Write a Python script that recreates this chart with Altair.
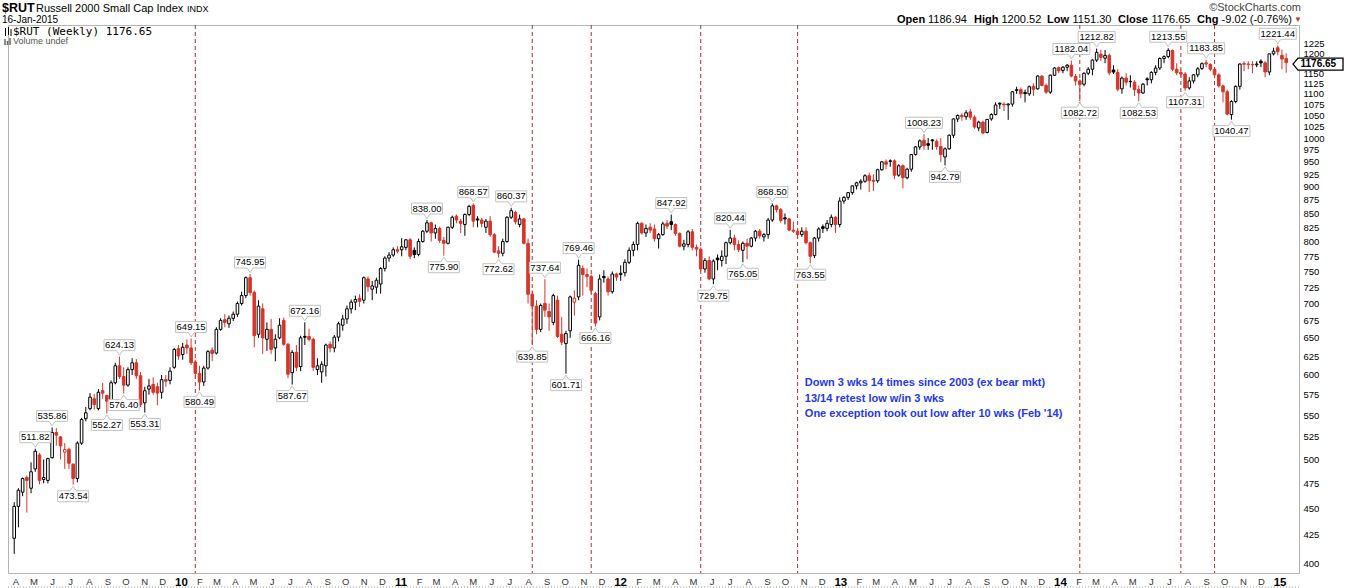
import altair as alt
import pandas as pd
import numpy as np

START = "2009-03-30"

opens = [
422,452,466,481,470,490,505,479,478,502,
530,525,508,511,495,480,518,546,558,570,
558,580,574,568,590,612,598,587,607,616,
599,565,582,588,585,578,594,593,610,635,
627,640,636,617,602,591,609,633,629,662,
676,670,678,684,700,712,740,717,655,692,
648,662,636,650,675,641,603,630,611,652,
652,648,607,604,612,641,636,651,668,677,
692,702,708,705,738,722,725,730,755,772,
777,786,786,790,803,785,778,800,818,833,
815,823,802,797,825,845,836,830,848,865,
840,838,825,836,812,784,780,800,843,852,
830,840,797,714,696,662,700,688,672,705,
655,642,660,702,710,755,745,742,715,680,
742,738,718,746,745,748,765,785,795,832,
815,825,822,805,812,832,835,830,814,792,
795,817,790,787,754,768,738,772,768,775,
798,806,795,785,797,792,806,818,808,812,
838,864,857,842,840,820,818,812,818,798,
776,806,826,823,830,843,830,873,880,889,
902,908,911,922,913,912,934,950,952,952,
923,942,918,935,965,981,995,988,996,993,
982,960,977,1006,1042,1050,1047,1058,1046,1022,
1035,1012,1042,1052,1078,1076,1074,1076,1108,1110,
1103,1100,1118,1112,1143,1120,1104,1145,1164,1157,
1165,1170,1142,1131,1123,1150,1160,1183,1198,1188,
1195,1158,1152,1112,1138,1130,1128,1110,1102,1136,
1134,1152,1163,1187,1192,1208,1160,1152,1148,1114,
1131,1146,1162,1176,1172,1160,1146,1119,1105,1052,
1082,1118,1174,1173,1172,1171,1180,1176,1153,1199,
1215,1195,1186.94]

highs = [
456,470,481,483,497,511.82,507,500,502,535.86,
535,526,518,513,496,520,547,560,577,576,
582,590,575,593,616,624.13,610,610,622,621,
604,585,595,597,590,600,600,610,636,640,
643,648,649.15,620,612,612,633,637,665,678,
684,682,688,703,718,742,745.95,720,705,700,
672,677,655,678,679,643,633,640,653,672.16,
663,650,622,618,642,645,654,673,683,697,
706,712,714,742,742,735,740,757,775,782,
790,792,806,804,806,790,805,820,838.00,835,
830,826,808,826,846,848,840,850,866,868.57,
845,842,840,845,815,792,805,845,860.37,855,
848,842,805,720,705,700,737.64,700,715,712,
680,660,712,720,769.46,760,755,745,718,745,
752,742,750,748,760,770,790,800,835,834,
830,832,830,815,835,838,847.92,832,816,803,
820,822,795,790,772,775,770,778,785,800,
820.44,812,802,800,805,808,820,822,815,842,
868.50,866,860,850,842,835,822,825,825,800,
808,825,830,838,848,845,880,882,890,903,
910,915,925,928,925,936,952,955,955,955,
945,945,938,966,983,997,1008.23,1000,998,997,
1000,980,1008,1043,1052,1055,1062,1065,1050,1038,
1038,1042,1055,1080,1080,1080,1078,1106,1117,1115,
1110,1120,1125,1145,1145,1125,1147,1165,1167,1168,
1173,1182.04,1148,1135,1152,1165,1185,1212.82,1210,1209,
1200,1170,1160,1142,1150,1145,1133,1120,1126,1140,
1155,1170,1190,1195,1213.55,1210,1175,1160,1153,1140,
1148,1165,1177,1183.85,1175,1165,1150,1122,1110,1085,
1120,1175,1180,1180,1180,1180,1185,1180,1200,1215,
1221.44,1210,1200.52]

lows = [
408,432,462,446,465,487,474,475,475,501,
515,500,490,490,473.54,476,516,543,556,557,
556,570,552.27,566,588,595,576.40,585,600,595,
560,553.31,575,575,562,570,585,588,608,620,
620,628,613,596,580.49,586,607,618,627,660,
665,664,674,680,697,708,712,637,650,628,
632,628,618,648,639,596,587.67,605,605,640,
645,605,600,590,598,630,630,645,660,670,
685,690,695,700,718,705,715,715,750,766,
774,780,775,785,770,772,775,798,815,800,
805,798,775.90,795,822,832,815,810,845,825,
825,825,815,808,780,772.62,775,798,840,830,
825,795,700,639.85,655,658,680,660,668,650,
640,601.71,650,682,705,712,725,715,666.16,675,
732,712,715,735,735,742,762,775,785,812,
808,815,800,788,810,822,820,810,790,785,
790,785,775,750,748,736,729.75,752,758,762,
795,785,782,765.05,770,790,800,805,800,805,
835,852,833,830,818,815,805,808,795,763.55,
772,800,815,818,825,815,825,868,875,885,
895,895,908,890,892,908,932,935,940,915,
920,897,915,930,963,975,975,975,975,975,
950,942.79,975,1000,1035,1038,1040,1040,1020,1015,
1008,1010,1038,1050,1065,1060,1040,1070,1100,1090,
1080,1095,1095,1110,1118,1100,1100,1143,1150,1150,
1155,1140,1120,1082.72,1118,1145,1145,1178,1180,1175,
1145,1148,1106,1100,1120,1115,1095,1082.53,1100,1120,
1125,1145,1158,1175,1188,1155,1145,1140,1107.31,1110,
1125,1140,1158,1165,1155,1140,1115,1080,1050,1040.47,
1078,1110,1155,1160,1150,1165,1165,1140,1145,1195,
1195,1160,1151.30]

closes = [
452,468,480,478,487,509,478,481,501,530,
527,515,511,496,480,518,545,553,572,563,
578,577,567,590,612,598,587,607,616,599,
563,580,586,578,577,594,592,605,634,625,
637,636,616,602,591,609,631,628.56,662,675,
672,678,684,700,712,740,716.60,653,696,650,
662,634,648,668,641,601,630,610,650,650.89,
648,610,612,614,640,636,651,670,677,692,
702,706,703.35,740,726,727,736,755,772,777,
786,783.65,791,803,775,778,800,818,833,815,
823,802,797,825,843,838,832,848,863,836,
838,832,836,812,782,780,800,843,855,835,
840,797,714,696,662,697,690,680,712,652,
644,656,710,708,760,745,742,720,671,738,
740,718,746,741,747,765,785,795,832,815,
823,820,805,812,831,827,830,814,792,796,
817,790,787,754,768,738,767,769,775,798,
806,795,786,797,792,806,818,810,812,838,
864,857,837,840,820,818,812,818,798,775,
806,822,823,832,843,830,873,880,889,902,
908,911,922,912,911,934,950,945,951,923,
942,918,935,965,981,994,983.5,984.5,994,982,
965,977,1006,1042,1050,1047,1056,1046,1024,1035,
1011,1041,1052,1074,1076,1074,1076,1105,1110,1100,
1100.5,1117,1111,1143,1120,1104,1145,1163,1156,1165,
1170,1143,1131,1122,1150,1160,1183,1203,1190,1195,
1151,1153,1111,1138,1128,1129,1110,1102,1123,1134,
1152,1163,1187,1192,1208,1160,1151,1148,1114,1131,
1146,1161,1174,1173,1160,1146,1119,1105,1053,1082,
1118,1173,1172.5,1172,1171,1173,1176,1153,1199,1206,
1204.70,1185.67,1176.65]

# weeks carrying a high / low callout, and weeks marked by a dashed line
hi_idx = [5, 9, 25, 42, 56, 69, 98, 109, 118, 126, 134, 156, 170, 180, 216, 251, 257, 274, 283, 300]
lo_idx = [14, 22, 26, 31, 44, 66, 102, 115, 123, 131, 138, 166, 173, 189, 221, 253, 267, 278, 289]
dash_idx = [43, 123, 137, 163, 186, 253, 277, 285]

note_lines = ["Down 3 wks 14 times since 2003 (ex bear mkt)",
              "13/14 retest low w/in 3 wks",
              "One exception took out low after 10 wks (Feb '14)"]
note_date = "2012-11-03"
note_price = 597

last_price = 1176.65
y_ticks = [v for v in range(400, 1226, 25) if v != 1175]

RED = "#d7352a"
BLK = "#000000"
FONT = "Liberation Sans"

dates = pd.date_range(START, periods=len(closes), freq="7D")
df = pd.DataFrame({"date": dates, "open": opens, "high": highs, "low": lows, "close": closes})
prev = df["close"].shift(1)
prev.iloc[0] = df["open"].iloc[0]
df["col"] = np.where(df["close"] < prev, RED, BLK)
df["fil"] = np.where(df["close"] > df["open"], "#ffffff", df["col"])

W, H = 1291, 548
xs = alt.Scale(domain=[alt.DateTime(year=2009, month=3, date=28),
                       alt.DateTime(year=2015, month=1, date=25)])
ys = alt.Scale(type="log", domain=[391.5, 1276], nice=False)

month_ticks = [alt.DateTime(year=d.year, month=d.month, date=1)
               for d in pd.date_range("2009-04-01", "2015-01-01", freq="MS")]
is_year = "month(datum.value) == 0"
xaxis = alt.Axis(
    values=month_ticks,
    labelExpr="month(datum.value) == 0 ? timeFormat(datum.value, '%y') : substring(timeFormat(datum.value, '%b'), 0, 1)",
    labelFontWeight={"condition": {"test": is_year, "value": "bold"}, "value": "normal"},
    labelFontSize={"condition": {"test": is_year, "value": 11.5}, "value": 9.5},
    labelColor={"condition": {"test": is_year, "value": "#000000"}, "value": "#333333"},
    ticks=False, domain=False, grid=False, title=None, labelPadding=3,
    labelFont=FONT, labelOverlap=False, labelFlush=False, labelBound=False)
yaxis = alt.Axis(orient="right", values=y_ticks, format="d", ticks=False, domain=False,
                 grid=False, title=None, labelPadding=4, labelFontSize=9.5,
                 labelOffset={"condition": {"test": "datum.value == 1200", "value": -0.3}, "value": 0},
                 labelColor="#000000", labelFont=FONT, labelOverlap=False,
                 labelFlush=False, labelBound=False)

X = alt.X("date:T", scale=xs, axis=xaxis)


def Y(field):
    return alt.Y(field, scale=ys, axis=yaxis)


dash_df = pd.DataFrame({"date": dates[dash_idx]})
dashes = alt.Chart(dash_df).mark_rule(color="#b0302a", strokeDash=[4, 3], strokeWidth=1).encode(x=X)

wicks = alt.Chart(df).mark_rule(strokeWidth=1).encode(
    x=X, y=Y("low:Q"), y2="high:Q",
    color=alt.Color("col:N", scale=None))

bodies = alt.Chart(df).mark_bar(size=2.6, strokeWidth=1).encode(
    x=X, y=Y("open:Q"), y2="close:Q",
    fill=alt.Fill("fil:N", scale=None),
    stroke=alt.Stroke("col:N", scale=None))


# callout shapes (unit = 30 px)
def callout(hw_px, up):
    s = -1 if up else 1
    hw = hw_px / 30.0
    t = s * 17 / 30.0
    b = s * 6 / 30.0
    tip = s * 1.5 / 30.0
    return (f"M{-hw:.4f},{t:.4f}L{hw:.4f},{t:.4f}L{hw:.4f},{b:.4f}L0.1,{b:.4f}"
            f"L0,{tip:.4f}L-0.1,{b:.4f}L{-hw:.4f},{b:.4f}Z")


shape_dom = ["hi6", "hi7", "lo6", "lo7"]
shape_rng = [callout(15.5, True), callout(18.5, True), callout(15.5, False), callout(18.5, False)]

rows = []
for i in hi_idx:
    t = f"{highs[i]:.2f}"
    rows.append({"date": dates[i], "price": highs[i], "text": t, "kind": "hi",
                 "shp": "hi7" if len(t) > 6 else "hi6"})
for i in lo_idx:
    t = f"{lows[i]:.2f}"
    rows.append({"date": dates[i], "price": lows[i], "text": t, "kind": "lo",
                 "shp": "lo7" if len(t) > 6 else "lo6"})
lab = pd.DataFrame(rows)

boxes = alt.Chart(lab).mark_point(filled=True, fill="#ffffff", stroke="#c2c2c2", strokeWidth=1,
                                  size=3600, opacity=1).encode(
    x=X, y=Y("price:Q"),
    shape=alt.Shape("shp:N", scale=alt.Scale(domain=shape_dom, range=shape_rng), legend=None))

hi_txt = alt.Chart(lab[lab.kind == "hi"]).mark_text(dy=-11.5, fontSize=9.5, font=FONT, color="#000000",
                                                    baseline="middle").encode(
    x=X, y=Y("price:Q"), text="text:N")
lo_txt = alt.Chart(lab[lab.kind == "lo"]).mark_text(dy=11.5, fontSize=9.5, font=FONT, color="#000000",
                                                    baseline="middle").encode(
    x=X, y=Y("price:Q"), text="text:N")

note_df = pd.DataFrame({"date": [pd.Timestamp(note_date)], "price": [note_price],
                        "t": ["\n".join(note_lines)]})
note = alt.Chart(note_df).mark_text(align="left", baseline="top", lineBreak="\n", lineHeight=15.5,
                                    fontSize=11, fontWeight="bold", color="#2438f0", font=FONT).encode(
    x=X, y=Y("price:Q"), text="t:N")

tag_df = pd.DataFrame({"price": [last_price], "t": [f"{last_price:.2f}"]})
tag_path = "M0,0.03L0.1,-0.09L1,-0.09L1,0.15L0.1,0.15Z"
tag_box = alt.Chart(tag_df).mark_point(shape=tag_path, size=10000, filled=True, fill="#ffffff",
                                       stroke="#000000", strokeWidth=1.3, opacity=1).encode(
    x=alt.value(W - 6), y=Y("price:Q"))
tag_txt = alt.Chart(tag_df).mark_text(align="left", baseline="middle", fontSize=10, fontWeight="bold",
                                      font=FONT, color="#000000", dy=1.5).encode(
    x=alt.value(W + 1.5), y=Y("price:Q"), text="t:N")


def txt(s, x, y, size=11, weight="normal", color="#000000", font=FONT, align="left"):
    return alt.Chart(pd.DataFrame({"t": [s]})).mark_text(
        x=x, y=y, fontSize=size, fontWeight=weight, color=color, font=font,
        align=align, baseline="alphabetic").encode(text="t:N")


def seg(x1, y1, x2, y2, color="#000000", width=1.0):
    return alt.Chart(pd.DataFrame({"k": [0]})).mark_rule(color=color, strokeWidth=width).encode(
        x=alt.value(x1), y=alt.value(y1), x2=alt.value(x2), y2=alt.value(y2))


hdr = [
    txt("$RUT", -6, -13, size=12.5, weight="bold"),
    txt("Russell 2000 Small Cap Index", 28, -13, size=11),
    txt("INDX", 179, -13, size=9),
    txt("16-Jan-2015", -6, -2, size=10),
    txt("\u00a9StockCharts.com", 1293, -14, size=11, color="#444444", align="right"),
    txt("Open", 889, -2, weight="bold"),
    txt("1186.94", 920, -2),
    txt("High", 966, -2, weight="bold"),
    txt("1200.52", 993.5, -2),
    txt("Low", 1039, -2, weight="bold"),
    txt("1151.30", 1064.5, -2),
    txt("Close", 1110, -2, weight="bold"),
    txt("1176.65", 1143.5, -2),
    txt("Chg", 1189, -2, weight="bold"),
    txt("-9.02 (-0.76%)", 1213.6, -2),
    txt("\u25bc", 1290, -3, size=8, color="#c0392b", align="center"),
    txt("$RUT (Weekly) 1176.65", 5, 10, size=11, font="DejaVu Sans Mono"),
    txt("Volume undef", 5, 19, size=9, color="#555555"),
]

# tiny legend glyphs (candles / volume) and the bottom ruler
icons = [
    seg(-2.5, 3, -2.5, 11), seg(0.5, 2, 0.5, 10), seg(3, 4, 3, 11),
    seg(-3, 14, -3, 20, "#666666", 1.5), seg(-0.5, 16, -0.5, 20, "#666666", 1.5),
    seg(2, 13, 2, 20, "#666666", 1.5),
]
ruler = alt.Chart(pd.DataFrame({"k": [0]})).mark_rule(color="#9a9a9a", strokeDash=[1, 2],
                                                       strokeWidth=1).encode(
    x=alt.value(0), x2=alt.value(W), y=alt.value(H + 14), y2=alt.value(H + 14))

chart = alt.layer(dashes, wicks, bodies, boxes, hi_txt, lo_txt, note, tag_box, tag_txt,
                  ruler, *icons, *hdr).properties(
    width=W, height=H,
    padding={"left": 8, "top": 25, "right": 50, "bottom": 15},
    autosize=alt.AutoSizeParams(type="none"),
    background="#ffffff",
).configure_view(stroke="#b4b4b4", strokeWidth=1)

chart.save("out.html", embed_options={"renderer": "svg", "actions": False})
